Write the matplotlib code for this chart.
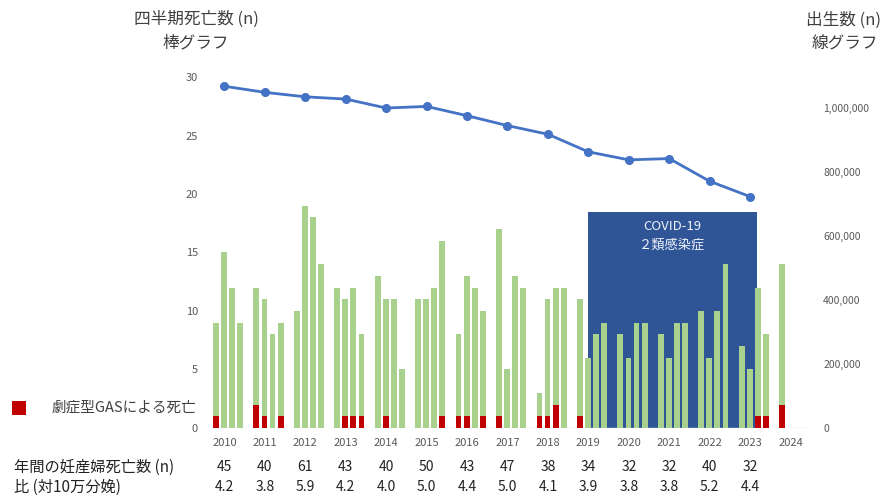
import matplotlib
matplotlib.use("Agg")
import matplotlib.pyplot as plt
import matplotlib.transforms as mtransforms
from matplotlib.patches import Rectangle

plt.rcParams['font.family'] = ['Noto Sans CJK JP', 'DejaVu Sans']

years = [2010, 2011, 2012, 2013, 2014, 2015, 2016, 2017, 2018, 2019, 2020, 2021, 2022, 2023, 2024]

# quarterly maternal deaths (total) per year
quarter_total = [
    [9, 15, 12, 9],
    [12, 11, 8, 9],
    [10, 19, 18, 14],
    [12, 11, 12, 8],
    [13, 11, 11, 5],
    [11, 11, 12, 16],
    [8, 13, 12, 10],
    [17, 5, 13, 12],
    [3, 11, 12, 12],
    [11, 6, 8, 9],
    [8, 6, 9, 9],
    [8, 6, 9, 9],
    [10, 6, 10, 14],
    [7, 5, 12, 8],
    [14],
]
# quarterly deaths from fulminant GAS
quarter_gas = [
    [1, 0, 0, 0],
    [2, 1, 0, 1],
    [0, 0, 0, 0],
    [0, 1, 1, 1],
    [0, 1, 0, 0],
    [0, 0, 0, 1],
    [1, 1, 0, 1],
    [1, 0, 0, 0],
    [1, 1, 2, 0],
    [1, 0, 0, 0],
    [0, 0, 0, 0],
    [0, 0, 0, 0],
    [0, 0, 0, 0],
    [0, 0, 1, 1],
    [2],
]
births_years = years[:-1]
births = [1068000, 1049000, 1035000, 1028000, 1000000, 1005000, 976000,
          945000, 918000, 863000, 838000, 842000, 771000, 723000]
annual_deaths = [45, 40, 61, 43, 40, 50, 43, 47, 38, 34, 32, 32, 40, 32]
ratio = ["4.2", "3.8", "5.9", "4.2", "4.0", "5.0", "4.4", "5.0", "4.1", "3.9", "3.8", "3.8", "5.2", "4.4"]

GREEN = '#a9d18e'
RED = '#c00000'
BLUE = '#4472c4'
BOX = '#2f5597'
GRAY = '#595959'

fig = plt.figure(figsize=(8.85, 4.95), dpi=100)
ax = fig.add_axes([0.2316, 0.1354, 0.6814, 0.709])

# slot positions: 5 slots per year (4 quarters + gap)
xs, tot, gas = [], [], []
for i, (t, g) in enumerate(zip(quarter_total, quarter_gas)):
    for q in range(len(t)):
        xs.append(i * 5 + q)
        tot.append(t[q])
        gas.append(g[q])

# COVID period box (behind the bars)
ax.add_patch(Rectangle((45.95, 0), 66.9 - 45.95, 18.5, facecolor=BOX, edgecolor='none', zorder=1))
ax.text((45.95 + 66.9) / 2, 17.2, 'COVID-19', color='#eef2fa', ha='center', va='center', fontsize=9.5, zorder=4)
ax.text((45.95 + 66.9) / 2, 15.6, '２類感染症', color='#eef2fa', ha='center', va='center', fontsize=9.5, zorder=4)

ax.bar(xs, tot, width=0.72, color=GREEN, zorder=2)
ax.bar(xs, gas, width=0.72, color=RED, zorder=3)

ax.axhline(0, color='#d9d9d9', lw=1, zorder=1)
ax.set_xlim(-1.35, 73.2)
ax.set_ylim(0, 30)
ax.set_yticks([0, 5, 10, 15, 20, 25, 30])
tick_x = [i * 5 + 1.05 for i in range(len(years))]
ax.set_xticks(tick_x)
ax.set_xticklabels([str(y) for y in years])
ax.tick_params(axis='x', length=0, pad=7, labelsize=8, labelcolor=GRAY)
ax.tick_params(axis='y', length=0, pad=5, labelsize=8, labelcolor=GRAY)
for s in ax.spines.values():
    s.set_visible(False)

ax2 = ax.twinx()
ax2.plot([tick_x[years.index(y)] for y in births_years], births, color=BLUE, lw=2,
         marker='o', markersize=5.5, zorder=5)
ax2.set_ylim(0, 1096875)
ax2.set_yticks([0, 200000, 400000, 600000, 800000, 1000000])
ax2.set_yticklabels(['0', '200,000', '400,000', '600,000', '800,000', '1,000,000'])
ax2.tick_params(axis='y', length=0, pad=11, labelsize=7.5, labelcolor=GRAY)
for s in ax2.spines.values():
    s.set_visible(False)

# axis titles
fig.text(196 / 885, 1 - 19 / 495, '四半期死亡数 (n)', ha='center', va='center', fontsize=12, color='#404040')
fig.text(196 / 885, 1 - 43 / 495, '棒グラフ', ha='center', va='center', fontsize=12, color='#404040')
fig.text(843 / 885, 1 - 20 / 495, '出生数 (n)', ha='center', va='center', fontsize=12, color='#404040')
fig.text(845 / 885, 1 - 44 / 495, '線グラフ', ha='center', va='center', fontsize=12, color='#404040')

# legend
fig.patches.append(Rectangle((12 / 885, 1 - 415 / 495), 14 / 885, 14 / 495, facecolor=RED,
                             edgecolor='none', transform=fig.transFigure, figure=fig))
fig.text(52 / 885, 1 - 408 / 495, '劇症型GASによる死亡', ha='left', va='center', fontsize=10.5, color='#404040')

# table under the chart
trans = mtransforms.blended_transform_factory(ax.transData, fig.transFigure)
fig.text(14 / 885, 1 - 467 / 495, '年間の妊産婦死亡数 (n)', ha='left', va='center', fontsize=11, color='#222222')
fig.text(14 / 885, 1 - 487 / 495, '比 (対10万分娩)', ha='left', va='center', fontsize=11, color='#222222')
for i in range(len(annual_deaths)):
    ax.text(tick_x[i], 1 - 467 / 495, str(annual_deaths[i]), transform=trans, ha='center', va='center',
            fontsize=10, color='#222222', clip_on=False)
    ax.text(tick_x[i], 1 - 487 / 495, ratio[i], transform=trans, ha='center', va='center',
            fontsize=10, color='#222222', clip_on=False)

fig.savefig('out.png', dpi=100)
